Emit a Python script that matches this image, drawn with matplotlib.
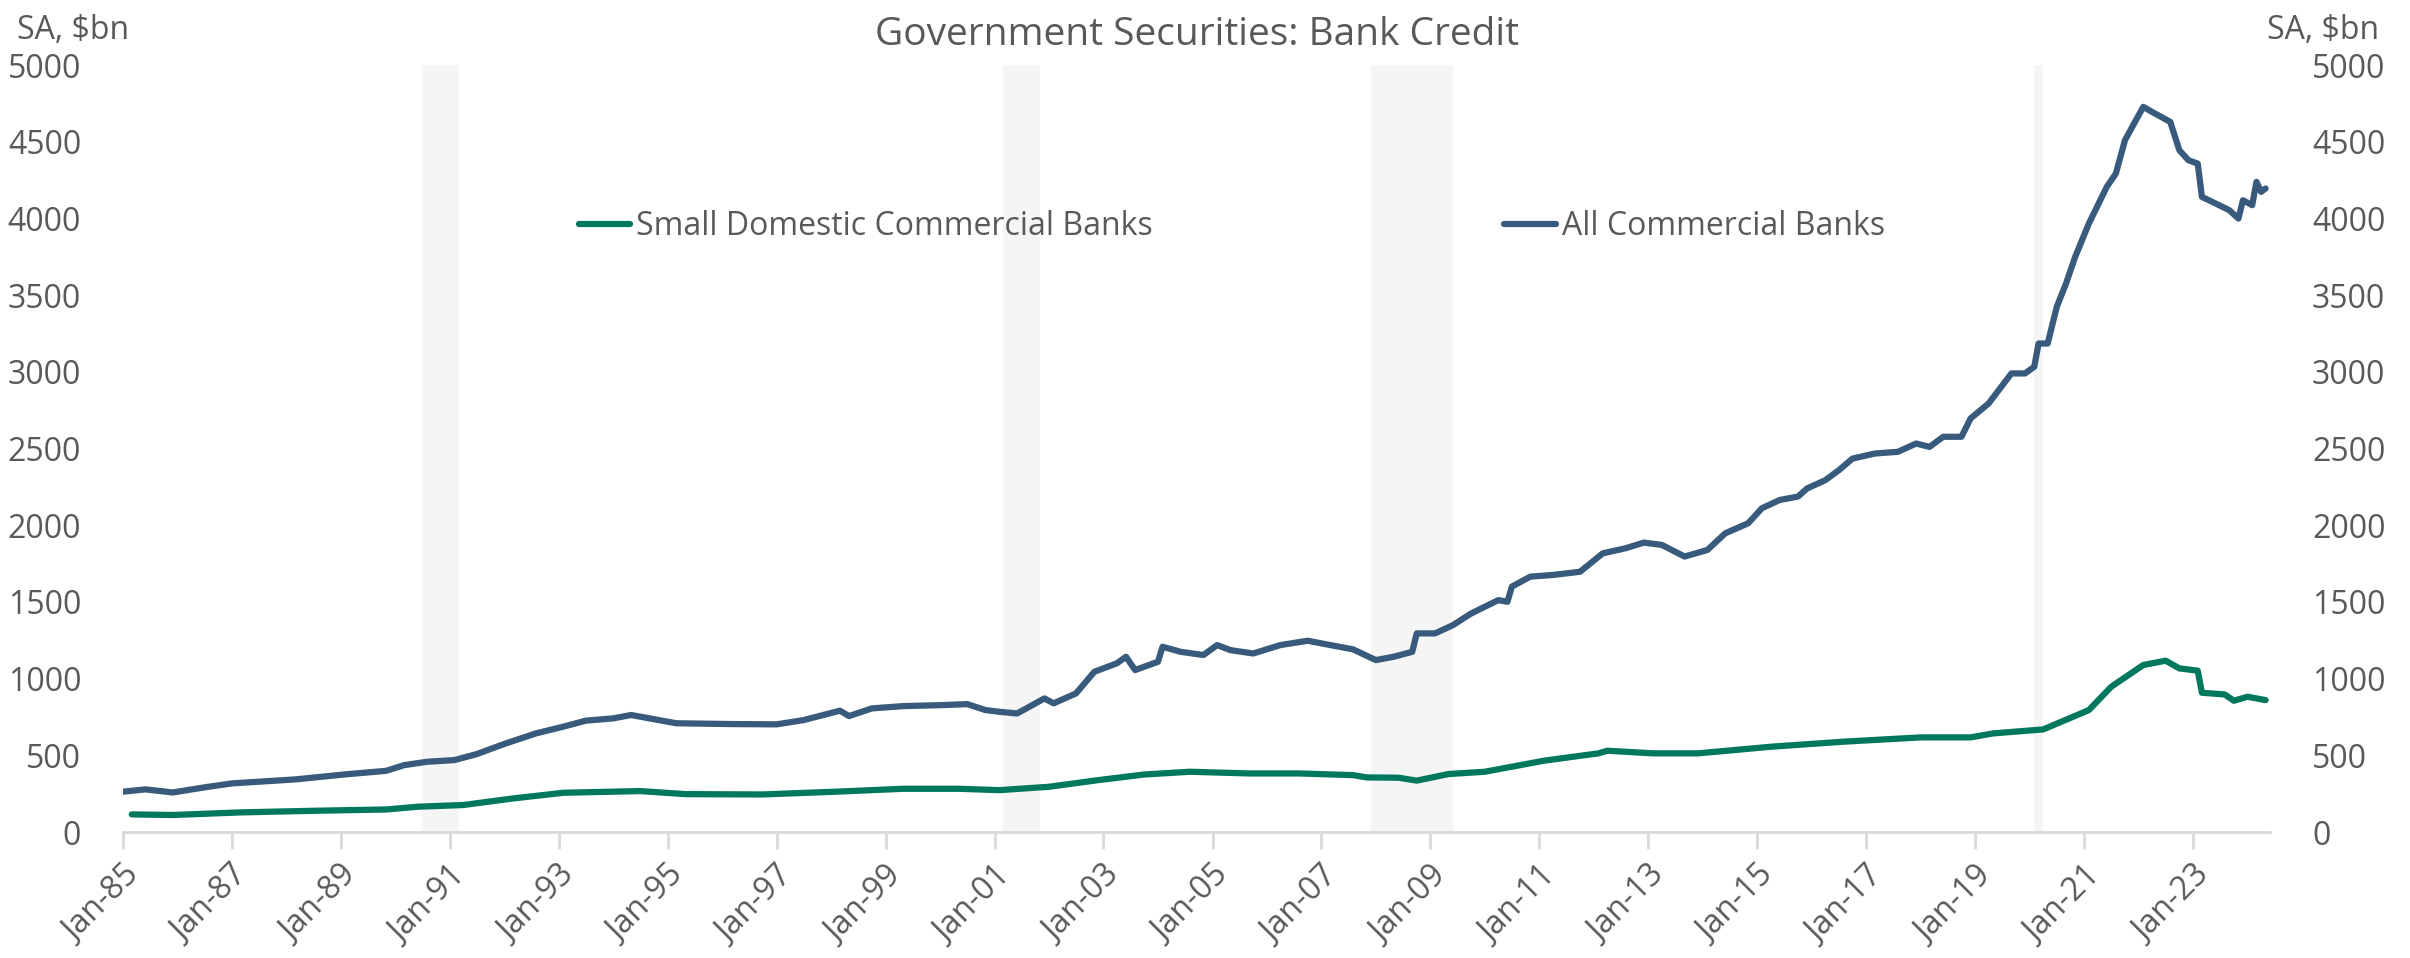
import numpy as np
import pandas as pd
import matplotlib.pyplot as plt
import matplotlib.dates as mdates

plt.rcParams['font.family'] = ['Open Sans', 'DejaVu Sans']

# all commercial banks, $bn
all_dates = ['1985-01', '1985-06', '1985-12', '1986-07', '1987-01', '1988-03', '1989-02', '1989-11',
             '1990-03', '1990-08', '1991-02', '1991-07', '1992-01', '1992-08', '1993-02', '1993-07',
             '1994-01', '1994-05', '1994-09', '1995-03', '1996-03', '1997-01', '1997-07', '1998-03',
             '1998-05', '1998-10', '1999-05', '2000-02', '2000-07', '2000-11', '2001-02', '2001-06',
             '2001-12', '2002-02', '2002-07', '2002-11', '2003-04', '2003-06', '2003-08', '2004-01',
             '2004-02', '2004-06', '2004-11', '2005-02', '2005-05', '2005-10', '2006-04', '2006-10',
             '2007-03', '2007-08', '2008-01', '2008-05', '2008-09', '2008-10', '2009-02', '2009-06',
             '2009-10', '2010-04', '2010-06', '2010-07', '2010-11', '2011-04', '2011-10', '2012-03',
             '2012-08', '2012-12', '2013-04', '2013-09', '2014-02', '2014-06', '2014-11', '2015-02',
             '2015-06', '2015-10', '2015-12', '2016-04', '2016-07', '2016-10', '2017-03', '2017-08',
             '2017-12', '2018-03', '2018-06', '2018-10', '2018-12', '2019-04', '2019-09', '2019-12',
             '2020-02', '2020-03', '2020-05', '2020-07', '2020-09', '2020-11', '2021-02', '2021-06',
             '2021-08', '2021-10', '2021-12', '2022-02', '2022-04', '2022-08', '2022-10', '2022-12',
             '2023-02', '2023-03', '2023-06', '2023-09', '2023-11', '2023-12', '2024-02', '2024-03',
             '2024-04', '2024-05']
all_banks = [263, 278, 258, 291, 317, 343, 376, 399,
             436, 458, 469, 508, 574, 643, 687, 726,
             741, 763, 741, 709, 704, 702, 730, 791,
             756, 806, 821, 828, 834, 795, 784, 773,
             871, 839, 904, 1045, 1100, 1143, 1056, 1110,
             1208, 1175, 1154, 1219, 1186, 1164, 1219, 1247,
             1219, 1191, 1121, 1143, 1175, 1295, 1295, 1349,
             1425, 1512, 1501, 1600, 1665, 1676, 1697, 1817,
             1850, 1887, 1872, 1796, 1839, 1948, 2013, 2111,
             2165, 2187, 2240, 2294, 2359, 2435, 2468, 2479,
             2533, 2511, 2577, 2577, 2696, 2794, 2990, 2990,
             3033, 3185, 3185, 3424, 3576, 3749, 3967, 4206,
             4293, 4510, 4619, 4728, 4695, 4630, 4445, 4380,
             4358, 4141, 4098, 4054, 4000, 4119, 4087, 4239,
             4174, 4196]

# small domestic commercial banks, $bn
small_dates = ['1985-03', '1985-12', '1987-03', '1988-08', '1989-11', '1990-06', '1991-04', '1992-03',
               '1993-02', '1994-07', '1995-05', '1996-10', '1998-02', '1999-05', '2000-05', '2001-02',
               '2002-01', '2002-12', '2003-10', '2004-08', '2005-09', '2006-08', '2007-08', '2007-11',
               '2008-06', '2008-10', '2009-05', '2010-01', '2011-02', '2012-02', '2012-04', '2013-02',
               '2013-12', '2015-04', '2016-08', '2018-01', '2018-12', '2019-05', '2020-04', '2021-02',
               '2021-07', '2022-02', '2022-07', '2022-10', '2023-02', '2023-03', '2023-08', '2023-10',
               '2024-01', '2024-05']
small_banks = [115, 111, 128, 139, 147, 165, 176, 219,
               256, 267, 247, 245, 263, 282, 282, 273,
               295, 339, 375, 393, 382, 382, 371, 356,
               354, 335, 378, 393, 465, 513, 530, 513,
               513, 556, 589, 617, 617, 643, 669, 795,
               947, 1089, 1117, 1067, 1052, 908, 897, 856,
               882, 860]

recessions = [('1990-07', '1991-03'), ('2001-03', '2001-11'),
              ('2007-12', '2009-06'), ('2020-02', '2020-04')]

tick_dates = pd.date_range('1985-01-01', '2023-01-01', freq='24MS')

grey = '#595959'
fs = 23

fig = plt.figure(figsize=(24.1, 9.58), dpi=100)
ax = fig.add_axes([0.051, 0.1315, 0.891, 0.8005])

for start, end in recessions:
    ax.axvspan(pd.Timestamp(start), pd.Timestamp(end), color='#f5f5f5', lw=0, zorder=0)

l1, = ax.plot(pd.to_datetime(small_dates), small_banks, color='#00785d', lw=4.5,
              solid_capstyle='round', label='Small Domestic Commercial Banks')
l2, = ax.plot(pd.to_datetime(all_dates), all_banks, color='#385a7c', lw=4.5,
              solid_capstyle='round', label='All Commercial Banks')

ax.set_xlim(pd.Timestamp('1985-01-01'), pd.Timestamp('2024-06-01'))
ax.set_ylim(0, 5000)
ax.set_yticks(np.arange(0, 5001, 500))

ax.set_xticks(tick_dates)
ax.xaxis.set_major_formatter(mdates.DateFormatter('Jan-%y'))
for lab in ax.get_xticklabels():
    lab.set_rotation(45)
    lab.set_ha('right')
    lab.set_rotation_mode('anchor')

for s in ['top', 'right', 'left']:
    ax.spines[s].set_visible(False)
ax.spines['bottom'].set_color('#d9d9d9')
ax.spines['bottom'].set_linewidth(2)
ax.tick_params(axis='x', colors='#d9d9d9', length=12, width=2, labelcolor=grey,
               labelsize=fs, pad=8)
ax.tick_params(axis='y', length=0, labelcolor=grey, labelsize=fs, pad=30)

ax2 = ax.twinx()
ax2.set_ylim(0, 5000)
ax2.set_yticks(np.arange(0, 5001, 500))
for s in ax2.spines.values():
    s.set_visible(False)
ax2.tick_params(axis='y', length=0, labelcolor=grey, labelsize=fs, pad=30)

fig.text(0.007, 0.985, 'SA, $bn', ha='left', va='top', fontsize=fs, color=grey)
fig.text(0.987, 0.985, 'SA, $bn', ha='right', va='top', fontsize=fs, color=grey)
ax.set_title('Government Securities: Bank Credit', fontsize=28, color=grey, y=1.015)

leg1 = ax.legend(handles=[l1], loc='center left', bbox_to_anchor=(0.199, 0.79),
                 frameon=False, fontsize=fs, labelcolor=grey, handlelength=1.6,
                 handletextpad=0.2)
ax.add_artist(leg1)
ax.legend(handles=[l2], loc='center left', bbox_to_anchor=(0.630, 0.79),
          frameon=False, fontsize=fs, labelcolor=grey, handlelength=1.6,
          handletextpad=0.2)

fig.savefig('out.png', dpi=100)
